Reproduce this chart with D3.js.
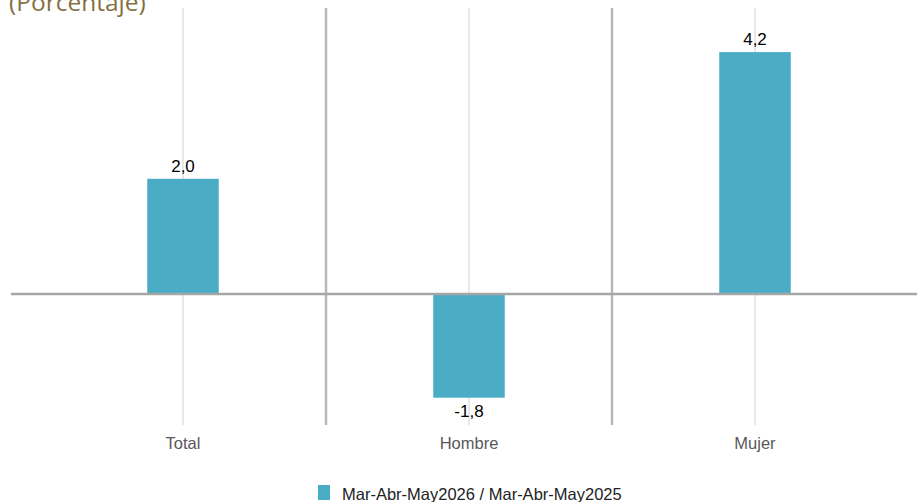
<!DOCTYPE html>
<html><head><meta charset="utf-8">
<script src="https://cdn.jsdelivr.net/npm/d3@7"></script>
<style>body{margin:0;background:#fff;}svg{display:block;}</style>
</head><body>
<svg id="c" width="917" height="502"></svg>
<script>
const categories = ["Total", "Hombre", "Mujer"];
const values = [2.0, -1.8, 4.2];
const seriesName = "Mar-Abr-May2026 / Mar-Abr-May2025";
const title = "(Porcentaje)";

(function(){
const svg = d3.select("#c");
const plotTop = 8, plotBottom = 425;
const x = d3.scaleBand().domain(categories).range([40, 898]).paddingInner(0).paddingOuter(0);
const y = d3.scaleLinear().domain([-2.274, 4.965]).range([plotBottom, plotTop]);
const fmt = v => d3.format(".1f")(v).replace(".", ",").replace("\u2212", "-");

// light center gridlines
svg.append("g").selectAll("line").data(categories).join("line")
  .attr("x1", d => x(d) + x.bandwidth()/2).attr("x2", d => x(d) + x.bandwidth()/2)
  .attr("y1", plotTop).attr("y2", plotBottom).attr("stroke", "#e8e8e8").attr("stroke-width", 2);

// category dividers
svg.append("g").selectAll("line").data(categories.slice(1)).join("line")
  .attr("x1", d => x(d)).attr("x2", d => x(d))
  .attr("y1", plotTop).attr("y2", plotBottom).attr("stroke", "#b7b7b7").attr("stroke-width", 2.5);

// bars
const bw = x.bandwidth() * 0.25;
svg.append("g").selectAll("rect").data(values).join("rect")
  .attr("x", (d,i) => x(categories[i]) + x.bandwidth()/2 - bw/2)
  .attr("width", bw)
  .attr("y", d => y(Math.max(0, d)))
  .attr("height", d => Math.abs(y(d) - y(0)))
  .attr("fill", "#4bacc6");

// zero line
svg.append("line").attr("x1", 11).attr("x2", 917).attr("y1", y(0)).attr("y2", y(0))
  .attr("stroke", "#a6a6a6").attr("stroke-width", 2.5);

// value labels
svg.append("g").selectAll("text").data(values).join("text")
  .attr("x", (d,i) => x(categories[i]) + x.bandwidth()/2)
  .attr("y", d => d >= 0 ? y(d) - 7 : y(d) + 19)
  .attr("text-anchor", "middle")
  .attr("font-family", "Liberation Sans, Arial, sans-serif")
  .attr("font-size", 17).attr("fill", "#000")
  .text(d => fmt(d));

// x axis labels
svg.append("g").selectAll("text").data(categories).join("text")
  .attr("x", d => x(d) + x.bandwidth()/2).attr("y", 449)
  .attr("text-anchor", "middle")
  .attr("font-family", "Liberation Sans, Arial, sans-serif")
  .attr("font-size", 16.5).attr("fill", "#595959")
  .text(d => d);

// title
svg.append("text").attr("x", 9).attr("y", 11)
  .attr("font-family", "Open Sans, sans-serif").attr("font-size", 24.5)
  .attr("fill", "#857040").text(title);

// legend
const lg = svg.append("g");
lg.append("rect").attr("x", 318).attr("y", 485).attr("width", 12).attr("height", 15).attr("fill", "#4bacc6");
lg.append("text").attr("x", 342).attr("y", 500)
  .attr("font-family", "Liberation Sans, Arial, sans-serif")
  .attr("font-size", 16.5).attr("fill", "#222").text(seriesName);
})();
</script>
</body></html>
